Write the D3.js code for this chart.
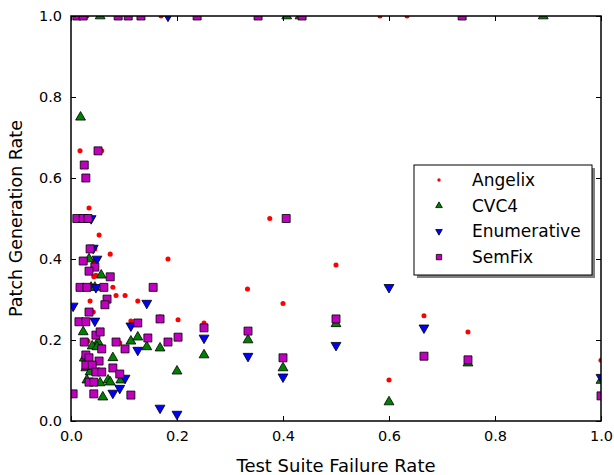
<!DOCTYPE html>
<html>
<head>
<meta charset="utf-8">
<script src="https://cdn.jsdelivr.net/npm/d3@7"></script>
<style>
  body { margin: 0; background: #fff; }
  svg { font-family: "DejaVu Sans", sans-serif; }
</style>
</head>
<body>
<svg width="614" height="475"></svg>
<script>
// data: [failure rate, generation rate]
var angelix = [[0.03,1],[0.17,1],[0.583,1],[0.634,1],[0.017,0.75],[0.017,0.667],[0.058,0.667],
  [0.034,0.526],[0.038,0.5],[0.053,0.459],[0.074,0.412],[0.045,0.425],[0.183,0.4],[0.042,0.395],
  [0.375,0.5],[0.043,0.356],[0.047,0.36],[0.079,0.33],[0.085,0.31],[0.102,0.31],[0.126,0.296],
  [0.036,0.296],[0.042,0.269],[0.113,0.247],[0.168,0.257],[0.202,0.25],[0.251,0.242],[0.333,0.326],
  [0.4,0.29],[0.5,0.385],[0.6,0.101],[0.666,0.26],[0.749,0.22],[1.0,0.15],[0.032,0.197],[0.092,0.193]];

var cvc4 = [[0.055,1],[0.407,1],[0.432,1],[0.891,1],[0.018,0.75],[0.034,0.4],[0.057,0.36],[0.038,0.33],
  [0.045,0.33],[0.023,0.22],[0.051,0.195],[0.04,0.185],[0.049,0.183],[0.079,0.156],[0.113,0.197],
  [0.126,0.207],[0.143,0.183],[0.168,0.18],[0.251,0.163],[0.2,0.123],[0.334,0.2],[0.025,0.155],
  [0.028,0.131],[0.036,0.121],[0.03,0.101],[0.055,0.094],[0.07,0.101],[0.074,0.096],[0.094,0.101],
  [0.06,0.059],[0.4,0.131],[0.5,0.24],[0.6,0.047],[0.749,0.143],[1.0,0.1]];

var enumerative = [[0.183,1],[0.038,0.5],[0.049,0.4],[0.042,0.427],[0.047,0.33],[0.004,0.284],
  [0.045,0.247],[0.143,0.291],[0.113,0.235],[0.126,0.175],[0.102,0.106],[0.092,0.081],[0.079,0.069],
  [0.168,0.032],[0.2,0.017],[0.251,0.205],[0.334,0.16],[0.6,0.33],[0.5,0.187],[0.4,0.109],
  [0.666,0.23],[1.0,0.108]];

var semfix = [[0.011,1],[0.023,1],[0.089,1],[0.108,1],[0.132,1],[0.238,1],[0.353,1],[0.436,1],[0.738,1],
  [0.051,0.667],[0.025,0.632],[0.028,0.6],[0.011,0.5],[0.023,0.5],[0.032,0.5],[0.036,0.425],
  [0.023,0.395],[0.045,0.38],[0.034,0.37],[0.074,0.356],[0.017,0.33],[0.03,0.33],[0.062,0.33],
  [0.155,0.33],[0.068,0.301],[0.064,0.287],[0.034,0.269],[0.015,0.245],[0.028,0.245],[0.126,0.242],
  [0.168,0.252],[0.251,0.23],[0.334,0.222],[0.047,0.212],[0.055,0.22],[0.025,0.195],[0.058,0.178],
  [0.085,0.195],[0.102,0.178],[0.145,0.205],[0.183,0.195],[0.202,0.207],[0.028,0.163],[0.034,0.156],
  [0.053,0.148],[0.028,0.138],[0.04,0.138],[0.047,0.121],[0.058,0.121],[0.079,0.131],[0.092,0.116],
  [0.034,0.096],[0.043,0.096],[0.043,0.067],[0.113,0.064],[0.004,0.067],[0.406,0.5],[0.5,0.252],
  [0.4,0.156],[0.666,0.16],[0.749,0.151],[1.0,0.062]];

var seriesNames = ["Angelix", "CVC4", "Enumerative", "SemFix"];
var ticks = [0, 0.2, 0.4, 0.6, 0.8, 1.0];

var svg = d3.select("svg"),
    margin = {left: 71, top: 16, right: 13, bottom: 54},
    width = +svg.attr("width") - margin.left - margin.right,
    height = +svg.attr("height") - margin.top - margin.bottom;

var x = d3.scaleLinear().domain([0, 1]).range([0, width]);
var y = d3.scaleLinear().domain([0, 1]).range([height, 0]);

var g = svg.append("g").attr("transform", "translate(" + margin.left + "," + margin.top + ")");

svg.append("defs").append("clipPath").attr("id", "clip")
  .append("rect").attr("width", width).attr("height", height);

var styles = [
  {data: angelix, sym: d3.symbolCircle, size: 20, fill: "#ff0000", stroke: "none"},
  {data: cvc4, sym: d3.symbolTriangle, size: 42, fill: "#007f00", stroke: "#000", rot: 0},
  {data: enumerative, sym: d3.symbolTriangle, size: 42, fill: "#0000ff", stroke: "#000", rot: 180},
  {data: semfix, sym: d3.symbolSquare, size: 64, fill: "#bf00bf", stroke: "#000"}
];

var plot = g.append("g").attr("clip-path", "url(#clip)");

styles.forEach(function(s) {
  var path = d3.symbol().type(s.sym).size(s.size)();
  plot.append("g").selectAll("path")
    .data(s.data)
    .enter().append("path")
      .attr("d", path)
      .attr("transform", function(d) {
        return "translate(" + x(d[0]) + "," + y(d[1]) + ")" + (s.rot ? " rotate(" + s.rot + ")" : "");
      })
      .attr("fill", s.fill)
      .attr("stroke", s.stroke)
      .attr("stroke-width", 0.8);
});

// axes, ticks pointing inward on all sides
var fmt = d3.format(".1f");
g.append("g").attr("transform", "translate(0," + height + ")")
  .call(d3.axisBottom(x).tickValues(ticks).tickFormat(fmt).tickSizeInner(-5).tickSizeOuter(0).tickPadding(10));
g.append("g")
  .call(d3.axisLeft(y).tickValues(ticks).tickFormat(fmt).tickSizeInner(-5).tickSizeOuter(0).tickPadding(9));
g.append("g")
  .call(d3.axisTop(x).tickValues(ticks).tickFormat("").tickSizeInner(-5).tickSizeOuter(0));
g.append("g").attr("transform", "translate(" + width + ",0)")
  .call(d3.axisRight(y).tickValues(ticks).tickFormat("").tickSizeInner(-5).tickSizeOuter(0));

g.selectAll(".domain").remove();
g.selectAll(".tick line").attr("stroke", "#000").attr("stroke-width", 1);
g.selectAll(".tick text").attr("font-size", 14.5).attr("fill", "#000")
  .attr("font-family", "DejaVu Sans");

g.append("rect").attr("width", width).attr("height", height)
  .attr("fill", "none").attr("stroke", "#000").attr("stroke-width", 1.5);

svg.append("text").attr("x", margin.left + width / 2).attr("y", 472)
  .attr("text-anchor", "middle").attr("font-size", 18).text("Test Suite Failure Rate");
svg.append("text").attr("transform", "translate(22," + (margin.top + height / 2) + ") rotate(-90)")
  .attr("text-anchor", "middle").attr("font-size", 17.5).text("Patch Generation Rate");

// legend
var lg = svg.append("g").attr("transform", "translate(414,165)");
lg.append("rect").attr("x", 3).attr("y", 3).attr("width", 178).attr("height", 110).attr("fill", "#808080");
lg.append("rect").attr("width", 178).attr("height", 110).attr("fill", "#fff")
  .attr("stroke", "#000").attr("stroke-width", 1);
styles.forEach(function(s, i) {
  var row = lg.append("g").attr("transform", "translate(0," + (15 + i * 25.7) + ")");
  row.append("path")
    .attr("d", d3.symbol().type(s.sym).size(s.size * 0.45)())
    .attr("transform", "translate(25,0)" + (s.rot ? " rotate(" + s.rot + ")" : ""))
    .attr("fill", s.fill).attr("stroke", s.stroke).attr("stroke-width", 0.8);
  row.append("text").attr("x", 58).attr("y", 6).attr("font-size", 17).text(seriesNames[i]);
});
</script>
</body>
</html>
